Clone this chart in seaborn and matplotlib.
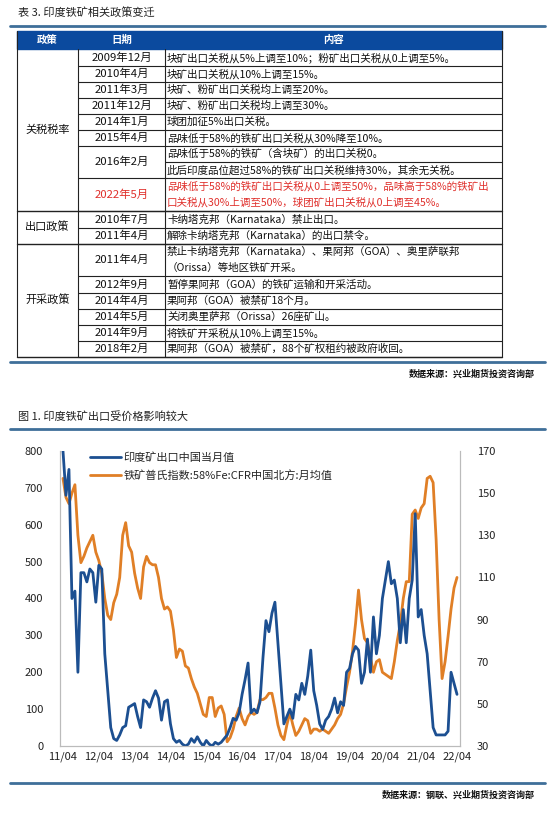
import matplotlib
matplotlib.use("Agg")
import matplotlib.pyplot as plt
import seaborn as sns
import pandas as pd
import numpy as np
from matplotlib.patches import Rectangle

sns.set_theme(style="white")
plt.rcParams['font.family'] = ['Noto Sans CJK SC', 'DejaVu Sans']

# ---------------- data ----------------
export_vals = [800, 680, 750, 400, 420, 200, 470, 470, 445, 480, 470, 390,
               490, 480, 250, 150, 50, 20, 15, 30, 50, 55, 105, 110,
               115, 80, 50, 125, 120, 105, 130, 150, 130, 70, 120, 125,
               60, 20, 10, 15, 5, 0, 5, 20, 10, 25, 10, 0,
               15, 5, 0, 10, 5, 10, 20, 30, 50, 75, 70, 90,
               140, 180, 225, 90, 100, 90, 120, 240, 340, 310, 360, 390,
               280, 170, 60, 80, 100, 75, 140, 125, 170, 140, 190, 260,
               150, 110, 60, 45, 70, 80, 100, 130, 90, 120, 110, 200,
               210, 250, 270, 260, 170, 200, 290, 200, 350, 250, 300, 400,
               450, 500, 440, 450, 400, 280, 370, 280, 400, 450, 630, 350,
               370, 300, 250, 150, 50, 30, 30, 30, 30, 40, 200, 170,
               140]
price_vals = [157, 148, 145, 150, 154, 130, 117, 120, 124, 127, 130, 122,
              118, 112, 100, 92, 90, 98, 102, 110, 130, 136, 125, 122,
              112, 105, 100, 115, 120, 117, 116, 116, 110, 100, 95, 96,
              94, 85, 72, 76, 75, 68, 67, 62, 58, 55, 50, 45,
              44, 53, 53, 44, 48, 49, 45, 32, 34, 38, 44, 48,
              43, 40, 44, 46, 45, 46, 52, 52, 53, 55, 55, 48,
              40, 35, 33, 40, 46, 40, 35, 37, 40, 43, 42, 36,
              38, 38, 37, 38, 37, 36, 38, 40, 43, 45, 50, 58,
              65, 75, 88, 104, 90, 81, 79, 72, 65, 70, 71, 65,
              64, 63, 62, 70, 80, 88, 100, 108, 108, 140, 142, 138,
              143, 145, 157, 158, 155, 128, 90, 62, 70, 82, 95, 105,
              110]
x_tick_labels = ["11/04", "12/04", "13/04", "14/04", "15/04", "16/04",
                 "17/04", "18/04", "19/04", "20/04", "21/04", "22/04"]
series_names = ["印度矿出口中国当月值", "铁矿普氏指数:58%Fe:CFR中国北方:月均值"]

policy_groups = ["关税税率", "出口政策", "开采政策"]
table_dates = ["2009年12月", "2010年4月", "2011年3月", "2011年12月", "2014年1月",
               "2015年4月", "2016年2月", "", "2022年5月",
               "2010年7月", "2011年4月",
               "2011年4月", "2012年9月", "2014年4月", "2014年5月", "2014年9月", "2018年2月"]
table_contents = [
    ["块矿出口关税从5%上调至10%；粉矿出口关税从0上调至5%。"],
    ["块矿出口关税从10%上调至15%。"],
    ["块矿、粉矿出口关税均上调至20%。"],
    ["块矿、粉矿出口关税均上调至30%。"],
    ["球团加征5%出口关税。"],
    ["品味低于58%的铁矿出口关税从30%降至10%。"],
    ["品味低于58%的铁矿（含块矿）的出口关税0。"],
    ["此后印度品位超过58%的铁矿出口关税维持30%，其余无关税。"],
    ["品味低于58%的铁矿出口关税从0上调至50%，品味高于58%的铁矿出",
     "口关税从30%上调至50%，球团矿出口关税从0上调至45%。"],
    ["卡纳塔克邦（Karnataka）禁止出口。"],
    ["解除卡纳塔克邦（Karnataka）的出口禁令。"],
    ["禁止卡纳塔克邦（Karnataka）、果阿邦（GOA）、奥里萨联邦",
     "（Orissa）等地区铁矿开采。"],
    ["暂停果阿邦（GOA）的铁矿运输和开采活动。"],
    ["果阿邦（GOA）被禁矿18个月。"],
    ["关闭奥里萨邦（Orissa）26座矿山。"],
    ["将铁矿开采税从10%上调至15%。"],
    ["果阿邦（GOA）被禁矿，88个矿权租约被政府收回。"],
]

# ---------------- figure ----------------
fig = plt.figure(figsize=(5.6, 8.14), dpi=100)
fig.patch.set_facecolor("white")

ov = fig.add_axes([0, 0, 1, 1])
ov.set_xlim(0, 560)
ov.set_ylim(814, 0)
ov.axis("off")

BLUE_H = "#0b4a9e"
LINE_BL = "#3f6f99"
ov.text(18, 13, "表 3. 印度铁矿相关政策变迁", fontsize=8, va="center", ha="left", color="#222222")
ov.plot([10, 545], [26, 26], color=LINE_BL, lw=2)

c0, c1, c2, c3 = 17, 78, 165, 502
ov.add_patch(Rectangle((c0, 31), c3 - c0, 18, color=BLUE_H))
for xc, lab in [((c0 + c1) / 2, "政策"), ((c1 + c2) / 2, "日期"), ((c2 + c3) / 2, "内容")]:
    ov.text(xc, 40, lab, color="white", fontsize=7.5, fontweight="bold", ha="center", va="center")

row_bounds = [49, 66, 82, 98, 114, 130, 146, 162, 178, 211, 228, 244, 276, 293, 309, 325, 341, 357]
group_bounds = [(49, 211), (211, 244), (244, 357)]
red = "#e0302c"
for i, (d, content) in enumerate(zip(table_dates, table_contents)):
    top, bot = row_bounds[i], row_bounds[i + 1]
    col = red if d == "2022年5月" else "#111111"
    if d:
        yc = (top + row_bounds[i + 2]) / 2 if i == 6 else (top + bot) / 2
        ov.text((c1 + c2) / 2, yc, d, fontsize=8.2, ha="center", va="center", color=col)
    n = len(content)
    for j, line in enumerate(content):
        yy = (top + bot) / 2 + (j - (n - 1) / 2) * 16
        ov.text(c2 + 2, yy, line, fontsize=7.6, ha="left", va="center", color=col)
    ov.plot([c2 if i == 6 else c1, c3], [bot, bot], color="#222222", lw=0.8)
for (t, b), g in zip(group_bounds, policy_groups):
    ov.text((c0 + c1) / 2, (t + b) / 2, g, fontsize=8, ha="center", va="center", color="#111111")
    ov.plot([c0, c3], [b, b], color="#222222", lw=1.0)
for xc in [c0, c1, c2, c3]:
    ov.plot([xc, xc], [31 if xc in (c0, c3) else 49, 357], color="#222222", lw=0.8)

ov.plot([10, 545], [362, 362], color=LINE_BL, lw=2)
ov.text(535, 374, "数据来源：兴业期货投资咨询部", fontsize=6.5, fontweight="bold", ha="right", va="center", color="#111111")

ov.text(18, 416, "图 1. 印度铁矿出口受价格影响较大", fontsize=8, va="center", ha="left", color="#222222")
ov.plot([10, 545], [429, 429], color=LINE_BL, lw=2)
ov.plot([10, 545], [783, 783], color=LINE_BL, lw=2)
ov.text(535, 795, "数据来源：钢联、兴业期货投资咨询部", fontsize=6.5, fontweight="bold", ha="right", va="center", color="#111111")

# ---------------- chart ----------------
df = pd.DataFrame({"m": np.arange(len(export_vals)), "exp": export_vals, "price": price_vals})
ax = fig.add_axes([60 / 560, 1 - 746 / 814, 400 / 560, (746 - 451) / 814])
ax2 = ax.twinx()
BLUE = "#1c4f91"
ORANGE = "#e07f26"
sns.lineplot(data=df, x="m", y="exp", ax=ax, color=BLUE, lw=2, label=series_names[0], legend=False)
sns.lineplot(data=df, x="m", y="price", ax=ax2, color=ORANGE, lw=2, label=series_names[1], legend=False)
ax.set_zorder(ax2.get_zorder() + 1)
ax.patch.set_visible(False)

ax.set_xlim(-1, 133)
ax.set_ylim(0, 800)
ax2.set_ylim(30, 170)
ax.set_yticks(range(0, 801, 100))
ax2.set_yticks(range(30, 171, 20))
ax.set_xticks(range(0, 133, 12))
ax.set_xticklabels(x_tick_labels)
ax.set_xlabel("")
ax.set_ylabel("")
ax2.set_ylabel("")
for a in (ax, ax2):
    a.tick_params(axis="both", labelsize=8, length=0, colors="#222222", pad=4)
    a.spines["top"].set_visible(False)
    for s in ["left", "right", "bottom"]:
        a.spines[s].set_color("#bbbbbb")
        a.spines[s].set_linewidth(0.8)
ax.tick_params(axis="y", pad=12)
ax2.tick_params(axis="y", pad=12)

h1, l1 = ax.get_legend_handles_labels()
h2, l2 = ax2.get_legend_handles_labels()
ax.legend(h1 + h2, l1 + l2, loc="upper left", bbox_to_anchor=(0.05, 1.03), frameon=False,
          fontsize=8, handlelength=2.8, handletextpad=0.2, labelspacing=0.6)

fig.savefig("out.png", dpi=100, facecolor="white")
